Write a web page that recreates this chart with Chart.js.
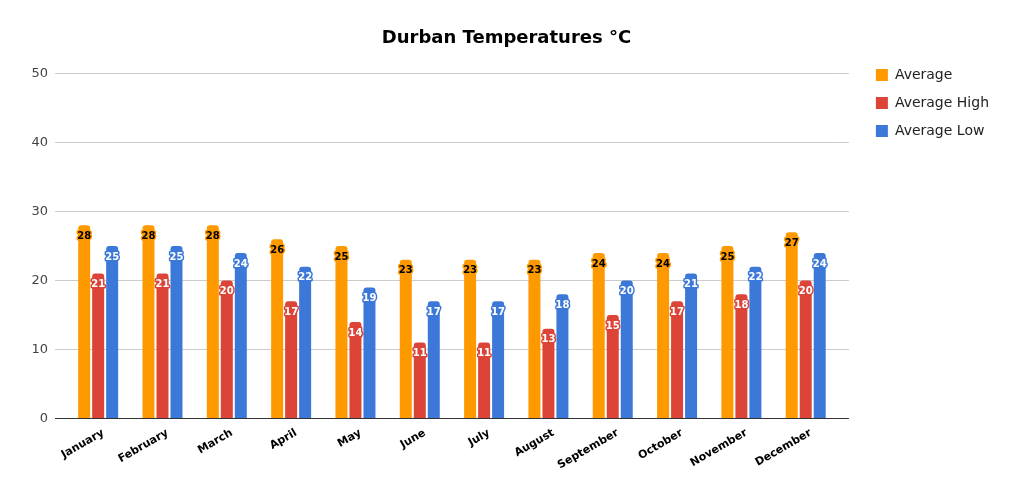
<!DOCTYPE html>
<html>
<head>
<meta charset="utf-8">
<script src="https://cdn.jsdelivr.net/npm/chart.js@4"></script>
<style>
html,body{margin:0;padding:0;background:#fff;}
#wrap{width:1013px;height:491px;}
</style>
</head>
<body>
<div id="wrap"><canvas id="c"></canvas></div>
<script>
const MONTHS=['January','February','March','April','May','June','July','August','September','October','November','December'];
const AVG=[28,28,28,26,25,23,23,23,24,24,25,27];
const HIGH=[21,21,20,17,14,11,11,13,15,17,18,20];
const LOW=[25,25,24,22,19,17,17,18,20,21,22,24];
const Y_TICKS=[0,10,20,30,40,50];

const COLORS={avg:'#ff9900',high:'#db4437',low:'#3c78d8'};

// draws the value inside the top of each bar, with an outline in the bar colour
const barLabels={
  id:'barLabels',
  afterDatasetsDraw(chart){
    const {ctx}=chart;
    ctx.save();
    ctx.font='bold 10px "DejaVu Sans"';
    ctx.textAlign='center';
    ctx.textBaseline='middle';
    ctx.lineJoin='round';
    chart.data.datasets.forEach((ds,i)=>{
      const meta=chart.getDatasetMeta(i);
      meta.data.forEach((el,j)=>{
        const txt=String(ds.data[j]);
        const y=el.y+11;
        ctx.lineWidth=3;
        ctx.strokeStyle=ds.backgroundColor;
        ctx.strokeText(txt,el.x,y);
        ctx.fillStyle=i===0?'#000':'#fff';
        ctx.fillText(txt,el.x,y);
      });
    });
    ctx.restore();
  }
};

const gridColor=c=>c.tick&&c.tick.value===0?'#333':'#ccc';
const setTicks=axis=>{axis.ticks=Y_TICKS.map(v=>({value:v}));};

new Chart(document.getElementById('c'),{
  type:'bar',
  data:{
    labels:MONTHS,
    datasets:[
      {label:'Average',data:AVG,backgroundColor:COLORS.avg,yAxisID:'y'},
      {label:'Average High',data:HIGH,backgroundColor:COLORS.high,yAxisID:'y'},
      {label:'Average Low',data:LOW,backgroundColor:COLORS.low,yAxisID:'y'}
    ]
  },
  options:{
    responsive:true,
    maintainAspectRatio:false,
    animation:false,
    datasets:{bar:{categoryPercentage:0.653,barPercentage:0.857,borderRadius:3}},
    layout:{padding:{left:14,right:14,top:12,bottom:19}},
    plugins:{
      title:{display:true,text:'Durban Temperatures °C',color:'#000',
        font:{family:'"DejaVu Sans"',size:18,weight:'bold'},padding:{top:16,bottom:24}},
      legend:{position:'right',align:'start',
        title:{display:true,text:' ',font:{size:10,lineHeight:1},padding:{top:32,bottom:0}},
        labels:{boxWidth:12,boxHeight:12,padding:14,color:'#222',
          font:{family:'"DejaVu Sans"',size:14}}},
      tooltip:{enabled:false}
    },
    scales:{
      x:{
        grid:{display:false},
        border:{display:false},
        ticks:{color:'#000',minRotation:30,maxRotation:30,padding:0,labelOffset:5,
          font:{family:'"DejaVu Sans"',size:11,weight:'bold'}}
      },
      y:{
        min:0,max:50,
        afterBuildTicks:setTicks,
        afterFit(axis){axis.width=52;},
        grid:{drawTicks:true,tickLength:11,color:gridColor},
        border:{display:false},
        ticks:{color:'#444',padding:7,font:{family:'"DejaVu Sans"',size:13}}
      },
      gap:{
        type:'linear',position:'right',display:true,min:0,max:50,
        afterBuildTicks:setTicks,
        afterFit(axis){axis.width=24;},
        grid:{drawOnChartArea:false,drawTicks:true,tickLength:11,color:gridColor},
        border:{display:false},ticks:{display:false}
      }
    }
  },
  plugins:[barLabels]
});
</script>
</body>
</html>
